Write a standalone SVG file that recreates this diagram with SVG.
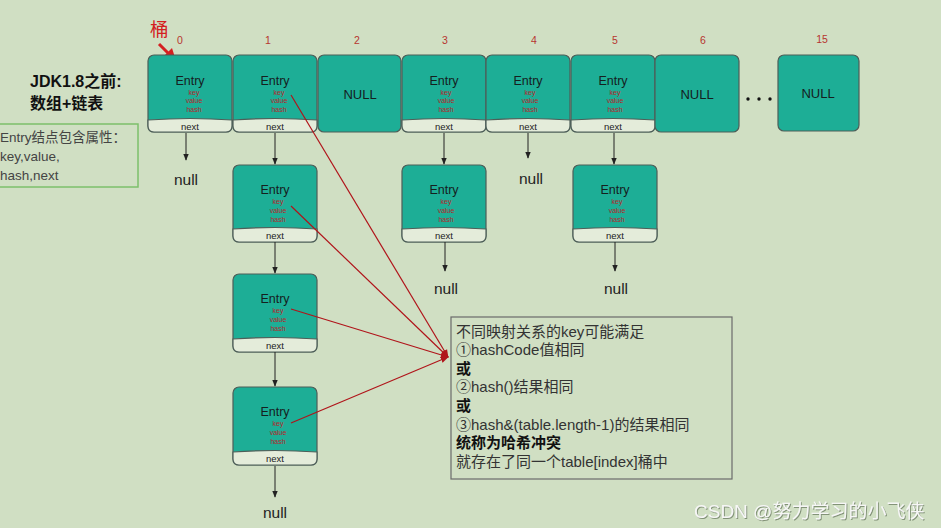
<svg xmlns="http://www.w3.org/2000/svg" width="941" height="528" viewBox="0 0 941 528">
<defs>
<style>
.bg{fill:#d0dfc3}
.box{fill:#1dae96;stroke:#4d5e58;stroke-width:1.2}
.band{fill:#e4ecda;stroke:#4d5e58;stroke-width:1.2}
.t{font-family:"Liberation Sans","Noto Sans CJK SC",sans-serif}
.entry{font-size:12.5px;fill:#15201e;text-anchor:middle}
.f{font-size:7px;fill:#b5262a;text-anchor:middle}
.nx{font-size:9.5px;fill:#222;text-anchor:middle}
.nul{font-size:13px;fill:#15201e;text-anchor:middle}
.idx{font-size:10.5px;fill:#b7352f;text-anchor:middle}
.nulltxt{font-size:15.5px;fill:#222;text-anchor:middle}
.blk{stroke:#222;stroke-width:1;fill:none}
.red{stroke:#b0141a;stroke-width:1.2;fill:none}
.note{font-size:15px;fill:#333}
.b{font-weight:bold;fill:#111}
</style>
<marker id="ab" viewBox="0 0 10 10" refX="9" refY="5" markerWidth="7" markerHeight="7" orient="auto" markerUnits="userSpaceOnUse"><path d="M0,1 L10,5 L0,9 Z" fill="#222"/></marker>
<marker id="ar" viewBox="0 0 10 10" refX="9" refY="5" markerWidth="8" markerHeight="8" orient="auto" markerUnits="userSpaceOnUse"><path d="M0,1 L10,5 L0,9 Z" fill="#b0141a"/></marker>
<filter id="sh" x="-5%" y="-20%" width="110%" height="150%"><feDropShadow dx="1" dy="1" stdDeviation="0.6" flood-color="#7a8a70" flood-opacity="0.9"/></filter>
</defs>
<rect class="bg" x="0" y="0" width="941" height="528"/>

<!-- left labels -->
<g id="title" class="t">
<text x="30" y="87" font-size="16" font-weight="bold" fill="#111">JDK1.8之前:</text>
<text x="30" y="109" font-size="16" font-weight="bold" fill="#111">数组+链表</text>
</g>
<g id="attrs" class="t">
<rect x="-2" y="124" width="140" height="63" fill="none" stroke="#7cc06b" stroke-width="1.5"/>
<text x="0" y="142" font-size="13.5" fill="#444">Entry结点包含属性：</text>
<text x="0" y="161" font-size="13.5" fill="#444">key,value,</text>
<text x="0" y="180" font-size="13.5" fill="#444">hash,next</text>
</g>

<g id="bucketLabel" class="t">
<text x="150" y="36" font-size="18.5" fill="#d42020">桶</text>
<line x1="159" y1="44" x2="169" y2="54" stroke="#d42020" stroke-width="3"/>
<path d="M176,61 L163,57 L172,48 Z" fill="#d42020"/>
</g>

<!-- indices -->
<g id="indices" class="t">
<text class="idx" x="180" y="44">0</text>
<text class="idx" x="268" y="44">1</text>
<text class="idx" x="357" y="44">2</text>
<text class="idx" x="445" y="44">3</text>
<text class="idx" x="534" y="44">4</text>
<text class="idx" x="615" y="44">5</text>
<text class="idx" x="703" y="44">6</text>
<text class="idx" x="822" y="43">15</text>
</g>

<!-- top row -->
<g id="b0" class="t" transform="translate(148,55)">
<rect class="box" x="0" y="0" width="84" height="77" rx="6"/>
<path class="band" d="M0,65 Q42,62 84,65 L84,71 Q84,77 78,77 L6,77 Q0,77 0,71 Z"/>
<text class="entry" x="42" y="30">Entry</text>
<text class="f" x="46" y="39.5">key</text><text class="f" x="46" y="48">value</text><text class="f" x="46" y="57">hash</text>
<text class="nx" x="42" y="74.5">next</text>
</g>
<g id="b1" class="t" transform="translate(233,55)">
<rect class="box" x="0" y="0" width="84" height="77" rx="6"/>
<path class="band" d="M0,65 Q42,62 84,65 L84,71 Q84,77 78,77 L6,77 Q0,77 0,71 Z"/>
<text class="entry" x="42" y="30">Entry</text>
<text class="f" x="46" y="39.5">key</text><text class="f" x="46" y="48">value</text><text class="f" x="46" y="57">hash</text>
<text class="nx" x="42" y="74.5">next</text>
</g>
<g id="b2" class="t" transform="translate(318,55)">
<rect class="box" x="0" y="0" width="83" height="77" rx="6"/>
<text class="nul" x="42" y="44">NULL</text>
</g>
<g id="b3" class="t" transform="translate(402,55)">
<rect class="box" x="0" y="0" width="84" height="77" rx="6"/>
<path class="band" d="M0,65 Q42,62 84,65 L84,71 Q84,77 78,77 L6,77 Q0,77 0,71 Z"/>
<text class="entry" x="42" y="30">Entry</text>
<text class="f" x="44" y="39.5">key</text><text class="f" x="44" y="48">value</text><text class="f" x="44" y="57">hash</text>
<text class="nx" x="42" y="74.5">next</text>
</g>
<g id="b4" class="t" transform="translate(486,55)">
<rect class="box" x="0" y="0" width="84" height="77" rx="6"/>
<path class="band" d="M0,65 Q42,62 84,65 L84,71 Q84,77 78,77 L6,77 Q0,77 0,71 Z"/>
<text class="entry" x="42" y="30">Entry</text>
<text class="f" x="44" y="39.5">key</text><text class="f" x="44" y="48">value</text><text class="f" x="44" y="57">hash</text>
<text class="nx" x="42" y="74.5">next</text>
</g>
<g id="b5" class="t" transform="translate(571,55)">
<rect class="box" x="0" y="0" width="84" height="77" rx="6"/>
<path class="band" d="M0,65 Q42,62 84,65 L84,71 Q84,77 78,77 L6,77 Q0,77 0,71 Z"/>
<text class="entry" x="42" y="30">Entry</text>
<text class="f" x="44" y="39.5">key</text><text class="f" x="44" y="48">value</text><text class="f" x="44" y="57">hash</text>
<text class="nx" x="42" y="74.5">next</text>
</g>
<g id="b6" class="t" transform="translate(655,55)">
<rect class="box" x="0" y="0" width="84" height="77" rx="6"/>
<text class="nul" x="42" y="44">NULL</text>
</g>
<g id="dots">
<circle cx="748" cy="99" r="1.7" fill="#111"/><circle cx="759" cy="99" r="1.7" fill="#111"/><circle cx="770" cy="99" r="1.7" fill="#111"/>
</g>
<g id="b15" class="t" transform="translate(778,55)">
<rect class="box" x="0" y="0" width="81" height="76" rx="6"/>
<text class="nul" x="40" y="43">NULL</text>
</g>

<!-- chain nodes -->
<g id="c1a" class="t" transform="translate(233,165)">
<rect class="box" x="0" y="0" width="84" height="77" rx="6"/>
<path class="band" d="M0,64 Q42,61 84,64 L84,71 Q84,77 78,77 L6,77 Q0,77 0,71 Z"/>
<text class="entry" x="42" y="29">Entry</text>
<text class="f" x="45" y="39">key</text><text class="f" x="45" y="48">value</text><text class="f" x="45" y="57">hash</text>
<text class="nx" x="42" y="74">next</text>
</g>
<g id="c1b" class="t" transform="translate(233,274)">
<rect class="box" x="0" y="0" width="84" height="78" rx="6"/>
<path class="band" d="M0,65 Q42,62 84,65 L84,72 Q84,78 78,78 L6,78 Q0,78 0,72 Z"/>
<text class="entry" x="42" y="29">Entry</text>
<text class="f" x="45" y="39">key</text><text class="f" x="45" y="48">value</text><text class="f" x="45" y="57">hash</text>
<text class="nx" x="42" y="75">next</text>
</g>
<g id="c1c" class="t" transform="translate(233,387)">
<rect class="box" x="0" y="0" width="84" height="78" rx="6"/>
<path class="band" d="M0,65 Q42,62 84,65 L84,72 Q84,78 78,78 L6,78 Q0,78 0,72 Z"/>
<text class="entry" x="42" y="29">Entry</text>
<text class="f" x="45" y="39">key</text><text class="f" x="45" y="48">value</text><text class="f" x="45" y="57">hash</text>
<text class="nx" x="42" y="75">next</text>
</g>
<g id="c3a" class="t" transform="translate(402,165)">
<rect class="box" x="0" y="0" width="84" height="77" rx="6"/>
<path class="band" d="M0,64 Q42,61 84,64 L84,71 Q84,77 78,77 L6,77 Q0,77 0,71 Z"/>
<text class="entry" x="42" y="29">Entry</text>
<text class="f" x="44" y="39">key</text><text class="f" x="44" y="48">value</text><text class="f" x="44" y="57">hash</text>
<text class="nx" x="42" y="74">next</text>
</g>
<g id="c5a" class="t" transform="translate(573,165)">
<rect class="box" x="0" y="0" width="84" height="77" rx="6"/>
<path class="band" d="M0,64 Q42,61 84,64 L84,71 Q84,77 78,77 L6,77 Q0,77 0,71 Z"/>
<text class="entry" x="42" y="29">Entry</text>
<text class="f" x="44" y="39">key</text><text class="f" x="44" y="48">value</text><text class="f" x="44" y="57">hash</text>
<text class="nx" x="42" y="74">next</text>
</g>

<!-- null labels -->
<g id="nulls" class="t">
<text class="nulltxt" x="186" y="185">null</text>
<text class="nulltxt" x="531" y="184">null</text>
<text class="nulltxt" x="446" y="294">null</text>
<text class="nulltxt" x="616" y="294">null</text>
<text class="nulltxt" x="275" y="518">null</text>
</g>

<!-- note -->
<g id="note" class="t">
<rect x="451" y="317" width="281" height="162" fill="none" stroke="#6b6b6b" stroke-width="1.2"/>
<text class="note" x="456" y="337">不同映射关系的key可能满足</text>
<text class="note" x="456" y="355">①hashCode值相同</text>
<text class="note b" x="456" y="374">或</text>
<text class="note" x="456" y="392">②hash()结果相同</text>
<text class="note b" x="456" y="411">或</text>
<text class="note" x="456" y="430">③hash&amp;(table.length-1)的结果相同</text>
<text class="note b" x="456" y="448">统称为哈希冲突</text>
<text class="note" x="456" y="467">就存在了同一个table[index]桶中</text>
</g>

<!-- connectors -->
<g id="connectors">
<line class="blk" x1="186" y1="133" x2="186" y2="160" marker-end="url(#ab)"/>
<line class="blk" x1="275" y1="133" x2="275" y2="164" marker-end="url(#ab)"/>
<line class="blk" x1="444" y1="133" x2="444" y2="164" marker-end="url(#ab)"/>
<line class="blk" x1="528" y1="133" x2="528" y2="158" marker-end="url(#ab)"/>
<line class="blk" x1="614" y1="133" x2="614" y2="164" marker-end="url(#ab)"/>
<line class="blk" x1="275" y1="242" x2="275" y2="273" marker-end="url(#ab)"/>
<line class="blk" x1="275" y1="352" x2="275" y2="386" marker-end="url(#ab)"/>
<line class="blk" x1="275" y1="466" x2="275" y2="497" marker-end="url(#ab)"/>
<line class="blk" x1="445" y1="242" x2="445" y2="271" marker-end="url(#ab)"/>
<line class="blk" x1="615" y1="242" x2="615" y2="271" marker-end="url(#ab)"/>
<line class="red" x1="291" y1="95" x2="448" y2="357" marker-end="url(#ar)"/>
<line class="red" x1="291" y1="206" x2="448" y2="357" marker-end="url(#ar)"/>
<line class="red" x1="291" y1="309" x2="448" y2="357" marker-end="url(#ar)"/>
<line class="red" x1="291" y1="423" x2="448" y2="357" marker-end="url(#ar)"/>
</g>

<g id="watermark" class="t">
<text x="694" y="518" font-size="19" fill="#f6f6f6" filter="url(#sh)">CSDN @努力学习的小飞侠</text>
</g>
</svg>
